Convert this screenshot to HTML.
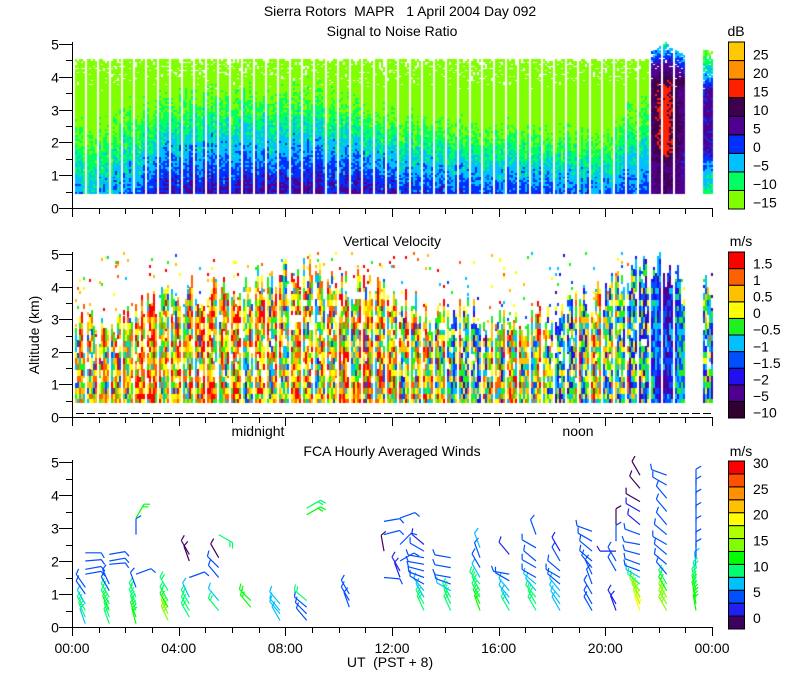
<!DOCTYPE html>
<html><head><meta charset="utf-8">
<style>
body{margin:0;background:#fff;width:800px;height:700px;overflow:hidden;position:relative;font-family:"Liberation Sans",sans-serif;}
canvas{position:absolute;left:0;top:0;}
svg{position:absolute;left:0;top:0;}
text{font-family:"Liberation Sans",sans-serif;font-size:14px;fill:#000;white-space:pre;}
</style></head>
<body>
<canvas id="cv" width="800" height="700"></canvas>
<svg id="sv" width="800" height="700">
<text x="400" y="16" text-anchor="middle" font-size="15" xml:space="preserve">Sierra Rotors  MAPR   1 April 2004 Day 092</text>
<text x="392" y="36" text-anchor="middle">Signal to Noise Ratio</text>
<text x="392" y="246" text-anchor="middle">Vertical Velocity</text>
<text x="392" y="456" text-anchor="middle">FCA Hourly Averaged Winds</text>
<text x="736" y="36" text-anchor="middle">dB</text>
<text x="741" y="246" text-anchor="middle">m/s</text>
<text x="741" y="456" text-anchor="middle">m/s</text>
<text x="0" y="0" transform="translate(39,335) rotate(-90)" text-anchor="middle" font-size="12">Altitude (km)</text>
<text x="390" y="667" text-anchor="middle" font-size="13" xml:space="preserve">UT  (PST + 8)</text>
<text x="258" y="436" text-anchor="middle">midnight</text>
<text x="578" y="436" text-anchor="middle">noon</text>
<g id="g"></g>
</svg>
<script>
// ---- data ----
const hours = [0,1,2,3,4,5,6,7,8,9,10,11,12,13,14,15,16,17,18,19,20,21,22,23,24];
const snrBase = [-3,-2,0,3,5,6,6,6,6,6,5,5,4,3,2,1,1,1,1,0,0,1,1,1,1];
const snrLapse = [5,5,5,6,6,6,6,6,6,6,6,7,7,7,7,7,7,7,7,7,7,5,5,5,5];
const stormAlts = [0,1.4,1.7,3.6,4.2,4.6,5.1];
const stormSnr = [11,11,18,18,9,3,-8];
const lateAlts = [0,1.0,1.8,3.5,4.0,4.8];
const lateSnr = [-8,-3,7,7,-2,-12];
const snrTop = 4.5;
const velMean = [0.3,0.5,0.6,0.8,0.7,0.8,0.6,0.4,0.5,0.3,0.5,0.6,0.5,0.3,0,-0.3,0,0.2,-0.3,0,0,-0.5,-1.6,-0.8,-0.8];
const velTop = [2.6,2.6,3.0,3.6,3.7,3.8,3.9,4.0,4.2,4.3,4.0,3.8,3.6,3.2,3.0,3.2,3.1,3.0,3.0,3.4,3.7,4.4,4.6,3.8,3.8];
const snrEdges = [-15,-10,-5,0,5,10,15,20,25,30];
const snrColors = ['#80ff00','#00ff60','#00c0ff','#0030ff','#500090','#400050','#ff2000','#ff9000','#ffc800'];
const snrLabels = ['-15','-10','-5','0','5','10','15','20','25'];
const velEdges = [-10,-5,-2,-1.5,-1,-0.5,0,0.5,1,1.5,2];
const velColors = ['#300030','#500090','#2010f0','#0050ff','#00c0ff','#20f020','#ffff00','#ffc000','#ff6000','#ff0000'];
const velLabels = ['-10','-5','-2','-1.5','-1','-0.5','0','0.5','1','1.5'];
const windEdges = [0,2.5,5,7.5,10,12.5,15,17.5,20,22.5,25,27.5,30,32.5];
const windColors = ['#400060','#2020f0','#0050ff','#00c0ff','#00ff70','#00ff00','#80ff00','#b0ff00','#ffff00','#ffc000','#ff9000','#ff5000','#ff0000'];
const windLabels = ['0','5','10','15','20','25','30'];
const xTickHours = [0,4,8,12,16,20,24];
const xTickLabels = ['00:00','04:00','08:00','12:00','16:00','20:00','00:00'];
const barbTimes = [0.5,1.4,2.4,3.6,4.4,5.5,6.7,7.8,8.8,10.4,11.7,12.3,13.2,14.2,15.3,16.4,17.4,18.3,19.5,20.4,21.3,22.3,23.4];
const barbAlts = [
[0.1,0.3,0.5,0.7,1.0,1.2,1.6,1.75,2.0,2.25],
[0.1,0.3,0.5,0.7,0.9,1.1,1.3,1.9,2.0,2.2],
[0.1,0.3,0.5,0.7,0.9,1.2,1.6,2.8,3.3],
[0.2,0.4,0.6,0.8,1.1],
[0.3,0.5,0.7,0.9,1.5,2.0,2.2],
[0.5,0.8,1.5,1.8,2.1,2.8],
[0.6,0.8],
[0.2,0.4,0.5,0.7],
[0.2,0.4,0.6,0.8,3.4,3.6],
[0.6,0.8,1.0],
[1.5,2.3,2.8,3.2],
[1.5,1.7,2.0,2.5,3.3],
[0.5,0.7,0.9,1.1,1.3,1.5,1.7,1.9,2.1,2.3,2.5],
[0.5,0.7,0.9,1.1,1.3,1.5,1.8,2.1],
[0.5,0.7,0.9,1.1,1.3,1.5,1.8,2.1,2.4],
[0.5,0.7,0.9,1.1,1.4,1.6,2.2],
[0.5,0.7,0.9,1.1,1.3,1.5,1.8,2.0,2.4,2.8],
[0.5,0.7,0.9,1.1,1.3,1.5,1.7,2.0,2.3],
[0.5,0.7,1.0,1.3,1.6,1.8,2.0,2.3,2.6,2.9],
[0.5,0.7,1.7,2.0,2.3,2.6,3.1],
[0.5,0.7,0.9,1.1,1.3,1.5,1.7,1.9,2.2,2.5,2.8,3.1,3.5,3.8,4.2,4.6],
[0.5,0.7,0.9,1.1,1.3,1.6,1.9,2.2,2.5,2.8,3.1,3.5,3.9,4.3,4.6],
[0.5,0.7,0.9,1.1,1.3,1.5,1.8,2.1,2.4,2.8,3.2,3.6,4.0,4.3]];
const barbSpeeds = [
[9,10,10,9,5,5,6,6,6,6],
[12,12,13,12,11,6,5,6,6,6],
[13,13,12,12,11,5,5,5,13],
[16,15,14,11,10],
[12,11,10,9,5,2,2],
[11,9,6,6,2,10],
[14,14],
[9,9,9,9],
[6,6,6,12,13,10],
[5,5,5],
[5,2,5,5],
[3,3,5,5,5],
[10,10,9,8,7,6,6,6,6,5,4],
[12,11,11,8,6,6,6,6],
[13,13,12,12,10,8,6,6,9],
[10,9,9,8,6,6,3],
[10,11,10,9,8,6,6,6,6,5],
[9,9,8,8,7,6,6,6,3],
[6,6,6,6,6,6,6,6,6,6],
[4,3,6,5,4,6,2],
[20,19,17,15,12,8,7,6,6,6,6,4,3,2,2,2],
[15,16,15,14,12,7,6,6,6,6,6,6,5,5,5],
[14,14,14,13,12,11,9,7,6,6,6,6,6,6]];
const barbDirs = [
[340,335,330,330,325,325,80,80,85,90],
[340,340,335,330,330,330,335,85,80,80],
[345,340,340,335,335,340,70,0,30],
[335,335,330,330,330],
[330,330,330,335,70,340,330],
[320,320,320,315,330,120],
[320,315],
[330,320,320,320],
[320,315,310,310,60,60],
[340,330,330],
[95,350,75,80],
[340,330,60,45,70],
[335,330,330,320,300,290,285,280,280,300,310],
[335,335,330,300,290,280,280,280],
[340,335,330,330,320,330,330,340,340],
[330,330,320,320,300,280,320],
[330,330,320,320,310,300,300,310,300,340],
[330,325,320,320,310,300,310,330,330],
[330,330,330,340,335,320,310,310,300,290],
[340,330,330,330,270,0,0],
[340,335,330,320,310,300,290,290,285,280,290,310,300,300,320,330],
[330,330,330,330,330,320,310,310,300,310,320,320,320,300,290],
[350,350,345,345,345,350,355,0,0,0,0,0,0,0]];

// ---- layout ----
const X0=72, X1=712;
const panels=[{top:44,bot:208},{top:254,bot:417},{top:462,bot:627}];
function xs(h){return X0+(X1-X0)*h/24;}
function ys(p,z){return p.bot-(p.bot-p.top)*z/5;}
function interp(arr,h){const i=Math.min(23,Math.floor(h));const f=h-i;return arr[i]*(1-f)+arr[i+1]*f;}
function prof(alts,vals,z){for(let i=0;i<alts.length-1;i++){if(z<=alts[i+1]){const f=(z-alts[i])/(alts[i+1]-alts[i]);return vals[i]*(1-f)+vals[i+1]*f;}}return vals[vals.length-1];}
function hash(a,b,c){let n=(a*374761393+b*668265263+c*2147483647)|0;n=(n^(n>>>13))*1274126177;n=n^(n>>>16);return ((n>>>0)%10000)/10000;}
function binColor(edges,colors,v){for(let i=colors.length-1;i>=0;i--){if(v>=edges[i])return colors[i];}return colors[0];}

const ctx=document.getElementById('cv').getContext('2d');
for(let c=0;c<322;c++){
  const h=0.1+c*0.075;
  if(h>23.0&&h<23.6)continue;
  if(h>23.95)continue;
  if(c%6===5 && h<23.5)continue;
  const px=Math.round(xs(h));
  const inStorm = h>21.6&&h<23.0;
  const late = h>=23.6;
  const base=interp(snrBase,h), lapse=interp(snrLapse,h);
  const vTop=interp(velTop,h), vm=interp(velMean,h);
  for(let r=7;r<84;r++){
    const z=r*0.06;
    const top=inStorm?(5.0-Math.abs(h-22.2)*0.6):(late?4.8:snrTop);
    if(z<top){
      let speck = z>3.5 ? hash(c,r,1) < (z-3.5)*(inStorm?0.15:0.3) : false;
      if(!speck){
        let v;
        if(inStorm){v=prof(stormAlts,stormSnr,z)+(hash(c,r,2)-0.5)*5;const d=Math.abs(h-22.2);if(z>1.5&&z<3.7)v-=d*14;else v-=d*6;}
        else if(late) v=prof(lateAlts,lateSnr,z)+(hash(c,r,2)-0.5)*6;
        else v=base-lapse*(z-0.5)+(hash(c,r,2)-0.5)*6+(hash(c,0,3)-0.5)*5;
        ctx.fillStyle=binColor(snrEdges,snrColors,v);
        ctx.fillRect(px,Math.round(ys(panels[0],z))-3,2,3);
      }
    }
    let vt=vTop+(hash(c,0,5)-0.5)*1.2;
    if(z<vt || hash(c,r,7)<0.03){
      if(hash(c,Math.floor(r/4),9)<0.12 && z>1.0 && !inStorm) continue;
      let v=vm+(hash(c,Math.floor(r/3),11)-0.5)*2.8+(hash(c,0,13)-0.5)*1.6;
      if(inStorm) v=-1.8+(hash(c,Math.floor(r/3),4)-0.5)*1.8+Math.abs(h-22.2)*1.5;
      ctx.fillStyle=binColor(velEdges,velColors,v);
      ctx.fillRect(px,Math.round(ys(panels[1],z))-3,2,3);
    }
  }
}

// ---- svg axes ----
const NS='http://www.w3.org/2000/svg';
const g=document.getElementById('g');
function mk(tag,attrs,name){const e=document.createElementNS(NS,tag);for(const k in attrs)e.setAttribute(k,attrs[k]);


g.appendChild(e);return e;}
function line(x1,y1,x2,y2,name,col,dash){const l=mk('line',{x1:x1,y1:y1,x2:x2,y2:y2,stroke:col||'#000','stroke-width':1},name);if(dash)l.setAttribute('stroke-dasharray',dash);return l;}
panels.forEach((p,pi)=>{
  line(X0+0.5,p.top-2,X0+0.5,p.bot+0.5,'y-axis-line-'+pi);
  line(X0,p.bot+0.5,X1,p.bot+0.5,'x-axis-line-'+pi);
  for(let k=0;k<=10;k++){const y=Math.round(ys(p,k/2))+0.5;line(X0-(k%2?6:13),y,X0,y,'y-tick-'+pi);
    if(k%2===0){const t=mk('text',{x:55,y:y+5,'text-anchor':'middle'},'y-tick-label-'+pi);t.textContent=String(k/2);}}
  for(let hh=0;hh<=24;hh++){const x=Math.round(xs(hh))+0.5;line(x,p.bot,x,p.bot+(hh%4===0?9:6),'x-tick-'+pi);}
});
line(76,413.5,712,413.5,'velocity-baseline','#000','8,3');
xTickHours.forEach((hh,i)=>{const t=mk('text',{x:xs(hh),y:653,'text-anchor':'middle'},'x-tick-label');t.textContent=xTickLabels[i];});
function colorbar(top,bot,colors,labels,step,name){
  const n=colors.length,bh=(bot-top)/n;
  for(let i=0;i<n;i++){mk('rect',{x:728.5,y:bot-(i+1)*bh,width:16,height:bh,fill:colors[i],stroke:'#000','stroke-width':1},name+'-bin');}
  labels.forEach((lb,i)=>{const t=mk('text',{x:753,y:bot-i*step*bh-bh/2+5-(step>1?bh/2-2:0)+(step>1?0:3)},name+'-label');t.textContent=lb.replace('-','\u2212');});
}
colorbar(42,209,snrColors,snrLabels,1,'snr-colorbar');
colorbar(252,418,velColors,velLabels,1,'velocity-colorbar');
colorbar(461,629,windColors,windLabels,2,'wind-colorbar');
const L=16;
barbTimes.forEach((t,ci)=>{
  barbAlts[ci].forEach((z,j)=>{
    const s=barbSpeeds[ci][j], d=barbDirs[ci][j]*Math.PI/180;
    const col=binColor(windEdges,windColors,s);
    const x0=xs(t), y0=ys(panels[2],z);
    const ux=Math.sin(d), uy=-Math.cos(d);
    const x1=x0+ux*L, y1=y0+uy*L;
    let path='M'+x0.toFixed(1)+' '+y0.toFixed(1)+'L'+x1.toFixed(1)+' '+y1.toFixed(1);
    const nt=Math.max(1,Math.floor(s/5));
    const a=d+Math.PI/3;
    for(let k=0;k<nt;k++){const bx=x1-ux*3*k, by=y1-uy*3*k;
      path+='M'+bx.toFixed(1)+' '+by.toFixed(1)+'l'+(Math.sin(a)*6).toFixed(1)+' '+(-Math.cos(a)*6).toFixed(1);}
    mk('path',{d:path,stroke:col,'stroke-width':1.2,fill:'none'},'wind-barb');
  });
});
</script>
</body></html>
